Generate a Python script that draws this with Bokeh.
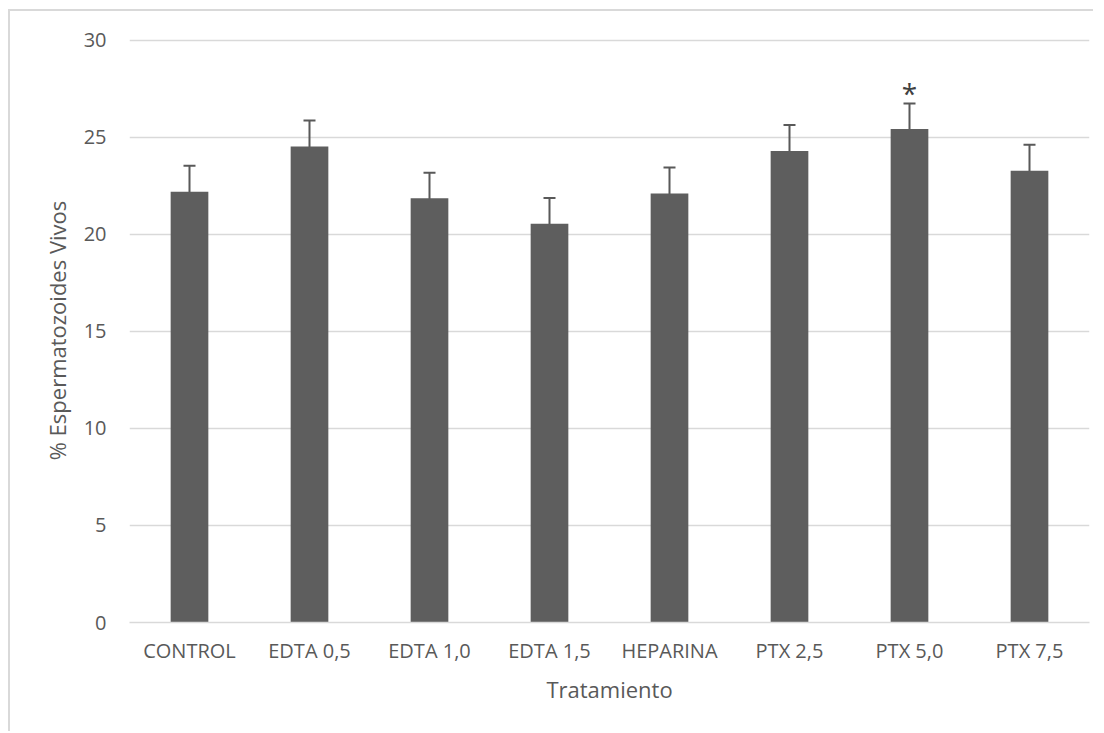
from bokeh.plotting import figure
from bokeh.models import FactorRange, Range1d, ColumnDataSource, Whisker, TeeHead, FixedTicker
from bokeh.core.properties import value
from bokeh.embed import file_html
from bokeh.resources import INLINE

categories = ["CONTROL", "EDTA 0,5", "EDTA 1,0", "EDTA 1,5", "HEPARINA", "PTX 2,5", "PTX 5,0", "PTX 7,5"]
means = [22.2, 24.54, 21.86, 20.55, 22.11, 24.3, 25.43, 23.28]
errors = [1.34, 1.34, 1.32, 1.33, 1.34, 1.34, 1.32, 1.34]
marks = ["", "", "", "", "", "", "*", ""]
y_ticks = [0, 5, 10, 15, 20, 25, 30]

FONT = "Open Sans"
TXT = "#595959"
BAR = "#5e5e5e"
GRID = "#d9d9d9"

src = ColumnDataSource(dict(
    x=categories,
    top=means,
    upper=[m + e for m, e in zip(means, errors)],
    lower=[m - e for m, e in zip(means, errors)],
    mark=marks,
))

p = figure(x_range=FactorRange(*categories, range_padding=0), y_range=Range1d(0, 30.1),
           width=1085, height=722, output_backend="svg", toolbar_location=None,
           min_border_left=119, min_border_right=6, min_border_top=27, min_border_bottom=111)
p.styles = {"border-left": "2px solid #d9d9d9", "border-top": "2px solid #d9d9d9",
            "margin-left": "8px", "margin-top": "9px"}

p.vbar(x="x", top="top", width=0.314, source=src, fill_color=BAR, line_color=None)

w = Whisker(base="x", upper="upper", lower="lower", source=src,
            line_color=TXT, line_width=2,
            upper_head=TeeHead(size=12, line_color=TXT, line_width=2),
            lower_head=TeeHead(size=12, line_color=TXT, line_width=2))
p.add_layout(w)

p.text(x="x", y="upper", text="mark", source=src, text_font=value(FONT), text_font_size="28px",
       text_color="#404040", text_align="center", text_baseline="alphabetic", y_offset=-10)

p.outline_line_color = None
p.background_fill_color = "white"
p.border_fill_color = "white"

p.xgrid.grid_line_color = None
p.ygrid.grid_line_color = GRID
p.ygrid.grid_line_width = 1.5
p.yaxis.ticker = FixedTicker(ticks=y_ticks)

for ax in (p.xaxis[0], p.yaxis[0]):
    ax.major_tick_line_color = None
    ax.minor_tick_line_color = None
    ax.major_label_text_font = FONT
    ax.major_label_text_font_size = "20px"
    ax.major_label_text_color = TXT
    ax.axis_label_text_font = FONT
    ax.axis_label_text_font_size = "22px"
    ax.axis_label_text_font_style = "normal"
    ax.axis_label_text_color = TXT

p.yaxis.axis_line_color = None
p.yaxis.axis_label = "% Espermatozoides Vivos"
p.yaxis.major_label_standoff = 17
p.yaxis.axis_label_standoff = 9

p.xaxis.axis_line_color = GRID
p.xaxis.axis_line_width = 1.5
p.xaxis.axis_label = "Tratamiento"
p.xaxis.major_label_standoff = 8
p.xaxis.axis_label_standoff = 7

open("out.html", "w").write(file_html(p, INLINE))
